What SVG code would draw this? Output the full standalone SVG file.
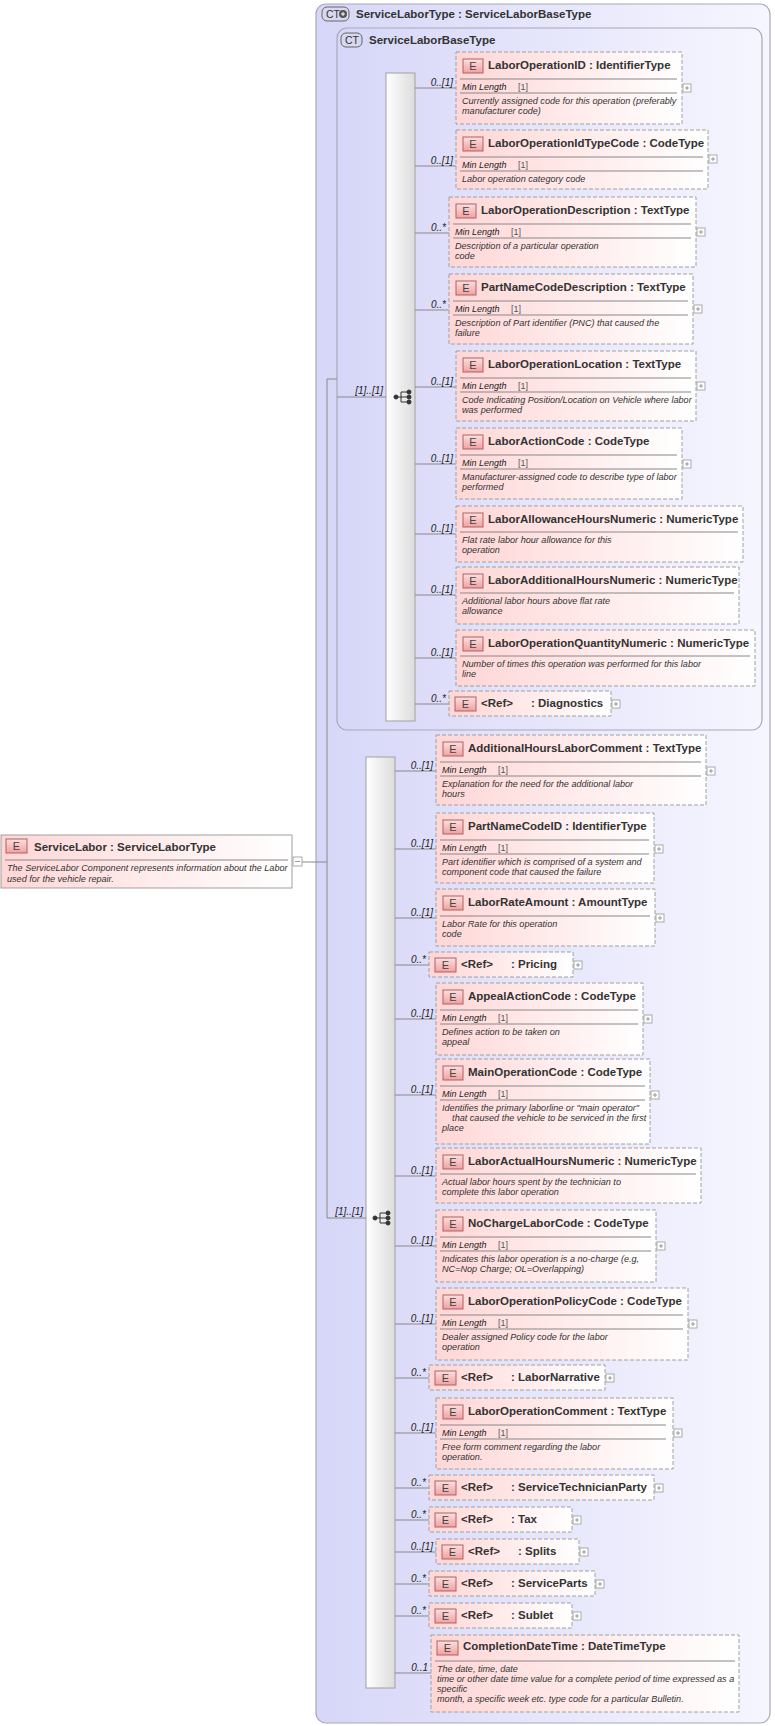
<svg xmlns="http://www.w3.org/2000/svg" width="775" height="1726" viewBox="0 0 775 1726">
<defs>
<linearGradient id="gb" x1="0" y1="0" x2="1" y2="0"><stop offset="0" stop-color="#d6d6f8"/><stop offset="1" stop-color="#f6f6ff"/></linearGradient>
<linearGradient id="ge" x1="0" y1="0" x2="1" y2="0"><stop offset="0" stop-color="#ffd6d6"/><stop offset="1" stop-color="#ffffff"/></linearGradient>
<linearGradient id="gs" x1="0" y1="0" x2="1" y2="0"><stop offset="0" stop-color="#ffffff"/><stop offset="1" stop-color="#dcdcdc"/></linearGradient>
<linearGradient id="gE" x1="0" y1="0" x2="0" y2="1"><stop offset="0" stop-color="#fbe0e0"/><stop offset="1" stop-color="#f2a0a0"/></linearGradient>
</defs>
<style>
text{font-family:"Liberation Sans",Arial,sans-serif;fill:#222}
.ct{fill:url(#gb);stroke:#a8a8b8;stroke-width:1.2}
.eb{fill:url(#ge);stroke:#a0a0a0;stroke-dasharray:4,2}
.es{fill:url(#ge);stroke:#a0a0a0}
.eg{fill:url(#gE);stroke:#b06060}
.et{font-size:11px;text-anchor:middle;fill:#444}
.tt{font-size:11.5px;font-weight:bold;fill:#333}
.sp{stroke:#888;stroke-width:1}
.ml{font-size:9px;font-style:italic}
.mv{font-size:9px;fill:#555}
.ds{font-size:9.1px;font-style:italic;fill:#333}
.lb{font-size:10px;font-style:italic;text-anchor:end}
.pl{fill:#fff;stroke:#aaa}
.pc{stroke:#999}
.cn{stroke:#888;fill:none}
.bar{fill:url(#gs);stroke:#a0a0a0}
.badge{fill:#d8d8f0;stroke:#666}
.bt{font-size:10.5px;fill:#333}
.ht{font-size:11.5px;font-weight:bold;fill:#333}
</style>

<g id="outer"><rect class="ct" x="316" y="4" width="454" height="1719" rx="10"/>
<rect class="badge" x="322" y="7" width="27" height="14" rx="5"/><text class="bt" x="326" y="18">CT</text><circle cx="343" cy="14" r="4" fill="#555"/><path d="M341 14h4M343 12v4" stroke="#fff"/>
<text class="ht" x="356" y="18">ServiceLaborType : ServiceLaborBaseType</text></g>
<g id="inner"><rect class="ct" x="337" y="28" width="425" height="702" rx="10"/>
<rect class="badge" x="341" y="33" width="21" height="14" rx="5"/><text class="bt" x="345" y="44">CT</text>
<text class="ht" x="369" y="44">ServiceLaborBaseType</text></g>

<g id="seq1"><rect class="bar" x="386" y="73" width="29" height="648"/>
<g stroke="#333" fill="#333"><path d="M396 397h5M401 392v10M401 392h8M401 397h8M401 402h8" fill="none"/><circle cx="396" cy="397" r="2"/><circle cx="409" cy="392" r="2"/><circle cx="409" cy="397" r="2"/><circle cx="409" cy="402" r="2"/></g></g>
<g id="seq2"><rect class="bar" x="366" y="757" width="29" height="931"/>
<g stroke="#333" fill="#333"><path d="M375 1218h5M380 1213v10M380 1213h8M380 1218h8M380 1223h8" fill="none"/><circle cx="375" cy="1218" r="2"/><circle cx="388" cy="1213" r="2"/><circle cx="388" cy="1218" r="2"/><circle cx="388" cy="1223" r="2"/></g></g>

<g id="ServiceLabor"><rect class="es" x="1" y="835" width="291" height="53"/>
<rect class="eg" x="6" y="839" width="21" height="14"/><text class="et" x="16.5" y="850">E</text>
<text class="ht" x="34" y="851">ServiceLabor : ServiceLaborType</text>
<line class="sp" x1="5" y1="860" x2="288" y2="860"/>
<text class="ds" x="7" y="871">The ServiceLabor Component represents information about the Labor</text>
<text class="ds" x="7" y="882">used for the vehicle repair.</text>
<rect class="pl" x="293" y="857" width="9" height="9"/><path class="pc" d="M295 861.5h5"/></g>

<g id="connectors">
<path class="cn" d="M302 862H327M327 379V1218M327 379H337M337 397H386M327 1218H366"/>
<text class="lb" x="383" y="394">[1]..[1]</text>
<text class="lb" x="363" y="1215">[1]..[1]</text>
<path class="cn" d="M415 88H456M415 166H456M415 233H449M415 310H449M415 387H456M415 464H456M415 534H456M415 595H456M415 658H456M415 704H449"/>
<text class="lb" x="453" y="86">0..[1]</text><text class="lb" x="453" y="164">0..[1]</text><text class="lb" x="446" y="231">0..*</text><text class="lb" x="446" y="308">0..*</text><text class="lb" x="453" y="385">0..[1]</text><text class="lb" x="453" y="462">0..[1]</text><text class="lb" x="453" y="532">0..[1]</text><text class="lb" x="453" y="593">0..[1]</text><text class="lb" x="453" y="656">0..[1]</text><text class="lb" x="446" y="702">0..*</text>
<path class="cn" d="M395 771H436M395 849H436M395 918H436M395 965H429M395 1019H436M395 1095H436M395 1176H436M395 1246H436M395 1324H436M395 1378H429M395 1433H436M395 1488H429M395 1520H429M395 1552H436M395 1584H429M395 1616H429M395 1673H431"/>
<text class="lb" x="433" y="769">0..[1]</text><text class="lb" x="433" y="847">0..[1]</text><text class="lb" x="433" y="916">0..[1]</text><text class="lb" x="426" y="963">0..*</text><text class="lb" x="433" y="1017">0..[1]</text><text class="lb" x="433" y="1093">0..[1]</text><text class="lb" x="433" y="1174">0..[1]</text><text class="lb" x="433" y="1244">0..[1]</text><text class="lb" x="433" y="1322">0..[1]</text><text class="lb" x="426" y="1376">0..*</text><text class="lb" x="433" y="1431">0..[1]</text><text class="lb" x="426" y="1486">0..*</text><text class="lb" x="426" y="1518">0..*</text><text class="lb" x="433" y="1550">0..[1]</text><text class="lb" x="426" y="1582">0..*</text><text class="lb" x="426" y="1614">0..*</text><text class="lb" x="428" y="1671">0..1</text>
</g>

<g id="n1"><rect class="eb" x="456" y="52" width="226" height="72"/><rect class="eg" x="463" y="59" width="20" height="14"/><text class="et" x="473" y="70">E</text><text class="tt" x="488" y="69">LaborOperationID : IdentifierType</text><line class="sp" x1="460" y1="79" x2="677" y2="79"/><text class="ml" x="462" y="90">Min Length</text><text class="mv" x="518" y="90">[1]</text><line class="sp" x1="460" y1="93" x2="677" y2="93"/><text class="ds" x="462" y="104">Currently assigned code for this operation (preferably</text><text class="ds" x="462" y="114">manufacturer code)</text><rect class="pl" x="683" y="84" width="8" height="8"/><path class="pc" d="M685 88h4M687 86v4"/></g>

<g id="n2"><rect class="eb" x="456" y="130" width="252" height="59"/><rect class="eg" x="463" y="137" width="20" height="14"/><text class="et" x="473" y="148">E</text><text class="tt" x="488" y="147">LaborOperationIdTypeCode : CodeType</text><line class="sp" x1="460" y1="157" x2="703" y2="157"/><text class="ml" x="462" y="168">Min Length</text><text class="mv" x="518" y="168">[1]</text><line class="sp" x1="460" y1="171" x2="703" y2="171"/><text class="ds" x="462" y="182">Labor operation category code</text><rect class="pl" x="709" y="155" width="8" height="8"/><path class="pc" d="M711 159h4M713 157v4"/></g>

<g id="n3"><rect class="eb" x="449" y="197" width="247" height="70"/><rect class="eg" x="456" y="204" width="20" height="14"/><text class="et" x="466" y="215">E</text><text class="tt" x="481" y="214">LaborOperationDescription : TextType</text><line class="sp" x1="453" y1="224" x2="691" y2="224"/><text class="ml" x="455" y="235">Min Length</text><text class="mv" x="511" y="235">[1]</text><line class="sp" x1="453" y1="238" x2="691" y2="238"/><text class="ds" x="455" y="249">Description of a particular operation</text><text class="ds" x="455" y="259">code</text><rect class="pl" x="697" y="228" width="8" height="8"/><path class="pc" d="M699 232h4M701 230v4"/></g>

<g id="n4"><rect class="eb" x="449" y="274" width="244" height="70"/><rect class="eg" x="456" y="281" width="20" height="14"/><text class="et" x="466" y="292">E</text><text class="tt" x="481" y="291">PartNameCodeDescription : TextType</text><line class="sp" x1="453" y1="301" x2="688" y2="301"/><text class="ml" x="455" y="312">Min Length</text><text class="mv" x="511" y="312">[1]</text><line class="sp" x1="453" y1="315" x2="688" y2="315"/><text class="ds" x="455" y="326">Description of Part identifier (PNC) that caused the</text><text class="ds" x="455" y="336">failure</text><rect class="pl" x="694" y="305" width="8" height="8"/><path class="pc" d="M696 309h4M698 307v4"/></g>

<g id="n5"><rect class="eb" x="456" y="351" width="240" height="70"/><rect class="eg" x="463" y="358" width="20" height="14"/><text class="et" x="473" y="369">E</text><text class="tt" x="488" y="368">LaborOperationLocation : TextType</text><line class="sp" x1="460" y1="378" x2="691" y2="378"/><text class="ml" x="462" y="389">Min Length</text><text class="mv" x="518" y="389">[1]</text><line class="sp" x1="460" y1="392" x2="691" y2="392"/><text class="ds" x="462" y="403">Code Indicating Position/Location on Vehicle where labor</text><text class="ds" x="462" y="413">was performed</text><rect class="pl" x="697" y="382" width="8" height="8"/><path class="pc" d="M699 386h4M701 384v4"/></g>

<g id="n6"><rect class="eb" x="456" y="428" width="226" height="71"/><rect class="eg" x="463" y="435" width="20" height="14"/><text class="et" x="473" y="446">E</text><text class="tt" x="488" y="445">LaborActionCode : CodeType</text><line class="sp" x1="460" y1="455" x2="677" y2="455"/><text class="ml" x="462" y="466">Min Length</text><text class="mv" x="518" y="466">[1]</text><line class="sp" x1="460" y1="469" x2="677" y2="469"/><text class="ds" x="462" y="480">Manufacturer-assigned code to describe type of labor</text><text class="ds" x="462" y="490">performed</text><rect class="pl" x="683" y="460" width="8" height="8"/><path class="pc" d="M685 464h4M687 462v4"/></g>

<g id="n7"><rect class="eb" x="456" y="506" width="287" height="56"/><rect class="eg" x="463" y="513" width="20" height="14"/><text class="et" x="473" y="524">E</text><text class="tt" x="488" y="523">LaborAllowanceHoursNumeric : NumericType</text><line class="sp" x1="460" y1="532" x2="738" y2="532"/><text class="ds" x="462" y="543">Flat rate labor hour allowance for this</text><text class="ds" x="462" y="553">operation</text></g>

<g id="n8"><rect class="eb" x="456" y="567" width="283" height="57"/><rect class="eg" x="463" y="574" width="20" height="14"/><text class="et" x="473" y="585">E</text><text class="tt" x="488" y="584">LaborAdditionalHoursNumeric : NumericType</text><line class="sp" x1="460" y1="593" x2="734" y2="593"/><text class="ds" x="462" y="604">Additional labor hours above flat rate</text><text class="ds" x="462" y="614">allowance</text></g>

<g id="n9"><rect class="eb" x="456" y="630" width="299" height="56"/><rect class="eg" x="463" y="637" width="20" height="14"/><text class="et" x="473" y="648">E</text><text class="tt" x="488" y="647">LaborOperationQuantityNumeric : NumericType</text><line class="sp" x1="460" y1="656" x2="750" y2="656"/><text class="ds" x="462" y="667">Number of times this operation was performed for this labor</text><text class="ds" x="462" y="677">line</text></g>

<g id="n10"><rect class="eb" x="449" y="691" width="162" height="25"/><rect class="eg" x="455" y="697" width="21" height="14"/><text class="et" x="465.5" y="708">E</text><text class="tt" x="481" y="707">&lt;Ref&gt;</text><text class="tt" x="531" y="707">: Diagnostics</text><rect class="pl" x="612" y="700" width="8" height="8"/><path class="pc" d="M614 704h4M616 702v4"/></g>

<g id="n11"><rect class="eb" x="436" y="735" width="270" height="70"/><rect class="eg" x="443" y="742" width="20" height="14"/><text class="et" x="453" y="753">E</text><text class="tt" x="468" y="752">AdditionalHoursLaborComment : TextType</text><line class="sp" x1="440" y1="762" x2="701" y2="762"/><text class="ml" x="442" y="773">Min Length</text><text class="mv" x="498" y="773">[1]</text><line class="sp" x1="440" y1="776" x2="701" y2="776"/><text class="ds" x="442" y="787">Explanation for the need for the additional labor</text><text class="ds" x="442" y="797">hours</text><rect class="pl" x="707" y="767" width="8" height="8"/><path class="pc" d="M709 771h4M711 769v4"/></g>

<g id="n12"><rect class="eb" x="436" y="813" width="218" height="70"/><rect class="eg" x="443" y="820" width="20" height="14"/><text class="et" x="453" y="831">E</text><text class="tt" x="468" y="830">PartNameCodeID : IdentifierType</text><line class="sp" x1="440" y1="840" x2="649" y2="840"/><text class="ml" x="442" y="851">Min Length</text><text class="mv" x="498" y="851">[1]</text><line class="sp" x1="440" y1="854" x2="649" y2="854"/><text class="ds" x="442" y="865">Part identifier which is comprised of a system and</text><text class="ds" x="442" y="875">component code that caused the failure</text><rect class="pl" x="655" y="845" width="8" height="8"/><path class="pc" d="M657 849h4M659 847v4"/></g>

<g id="n13"><rect class="eb" x="436" y="889" width="219" height="57"/><rect class="eg" x="443" y="896" width="20" height="14"/><text class="et" x="453" y="907">E</text><text class="tt" x="468" y="906">LaborRateAmount : AmountType</text><line class="sp" x1="440" y1="916" x2="650" y2="916"/><text class="ds" x="442" y="927">Labor Rate for this operation</text><text class="ds" x="442" y="937">code</text><rect class="pl" x="656" y="914" width="8" height="8"/><path class="pc" d="M658 918h4M660 916v4"/></g>

<g id="n14"><rect class="eb" x="429" y="952" width="144" height="25"/><rect class="eg" x="435" y="958" width="21" height="14"/><text class="et" x="445.5" y="969">E</text><text class="tt" x="461" y="968">&lt;Ref&gt;</text><text class="tt" x="511" y="968">: Pricing</text><rect class="pl" x="574" y="961" width="8" height="8"/><path class="pc" d="M576 965h4M578 963v4"/></g>

<g id="n15"><rect class="eb" x="436" y="983" width="207" height="72"/><rect class="eg" x="443" y="990" width="20" height="14"/><text class="et" x="453" y="1001">E</text><text class="tt" x="468" y="1000">AppealActionCode : CodeType</text><line class="sp" x1="440" y1="1010" x2="638" y2="1010"/><text class="ml" x="442" y="1021">Min Length</text><text class="mv" x="498" y="1021">[1]</text><line class="sp" x1="440" y1="1024" x2="638" y2="1024"/><text class="ds" x="442" y="1035">Defines action to be taken on</text><text class="ds" x="442" y="1045">appeal</text><rect class="pl" x="644" y="1015" width="8" height="8"/><path class="pc" d="M646 1019h4M648 1017v4"/></g>

<g id="n16"><rect class="eb" x="436" y="1059" width="214" height="85"/><rect class="eg" x="443" y="1066" width="20" height="14"/><text class="et" x="453" y="1077">E</text><text class="tt" x="468" y="1076">MainOperationCode : CodeType</text><line class="sp" x1="440" y1="1086" x2="645" y2="1086"/><text class="ml" x="442" y="1097">Min Length</text><text class="mv" x="498" y="1097">[1]</text><line class="sp" x1="440" y1="1100" x2="645" y2="1100"/><text class="ds" x="442" y="1111">Identifies the primary laborline or "main operator"</text><text class="ds" x="442" y="1121" xml:space="preserve">    that caused the vehicle to be serviced in the first</text><text class="ds" x="442" y="1131">place</text><rect class="pl" x="651" y="1091" width="8" height="8"/><path class="pc" d="M653 1095h4M655 1093v4"/></g>

<g id="n17"><rect class="eb" x="436" y="1148" width="265" height="55"/><rect class="eg" x="443" y="1155" width="20" height="14"/><text class="et" x="453" y="1166">E</text><text class="tt" x="468" y="1165">LaborActualHoursNumeric : NumericType</text><line class="sp" x1="440" y1="1174" x2="696" y2="1174"/><text class="ds" x="442" y="1185">Actual labor hours spent by the technician to</text><text class="ds" x="442" y="1195">complete this labor operation</text></g>

<g id="n18"><rect class="eb" x="436" y="1210" width="220" height="72"/><rect class="eg" x="443" y="1217" width="20" height="14"/><text class="et" x="453" y="1228">E</text><text class="tt" x="468" y="1227">NoChargeLaborCode : CodeType</text><line class="sp" x1="440" y1="1237" x2="651" y2="1237"/><text class="ml" x="442" y="1248">Min Length</text><text class="mv" x="498" y="1248">[1]</text><line class="sp" x1="440" y1="1251" x2="651" y2="1251"/><text class="ds" x="442" y="1262">Indicates this labor operation is a no-charge (e.g,</text><text class="ds" x="442" y="1272">NC=Nop Charge; OL=Overlapping)</text><rect class="pl" x="657" y="1242" width="8" height="8"/><path class="pc" d="M659 1246h4M661 1244v4"/></g>

<g id="n19"><rect class="eb" x="436" y="1288" width="252" height="72"/><rect class="eg" x="443" y="1295" width="20" height="14"/><text class="et" x="453" y="1306">E</text><text class="tt" x="468" y="1305">LaborOperationPolicyCode : CodeType</text><line class="sp" x1="440" y1="1315" x2="683" y2="1315"/><text class="ml" x="442" y="1326">Min Length</text><text class="mv" x="498" y="1326">[1]</text><line class="sp" x1="440" y1="1329" x2="683" y2="1329"/><text class="ds" x="442" y="1340">Dealer assigned Policy code for the labor</text><text class="ds" x="442" y="1350">operation</text><rect class="pl" x="689" y="1320" width="8" height="8"/><path class="pc" d="M691 1324h4M693 1322v4"/></g>

<g id="n20"><rect class="eb" x="429" y="1365" width="176" height="25"/><rect class="eg" x="435" y="1371" width="21" height="14"/><text class="et" x="445.5" y="1382">E</text><text class="tt" x="461" y="1381">&lt;Ref&gt;</text><text class="tt" x="511" y="1381">: LaborNarrative</text><rect class="pl" x="606" y="1374" width="8" height="8"/><path class="pc" d="M608 1378h4M610 1376v4"/></g>

<g id="n21"><rect class="eb" x="436" y="1398" width="237" height="71"/><rect class="eg" x="443" y="1405" width="20" height="14"/><text class="et" x="453" y="1416">E</text><text class="tt" x="468" y="1415">LaborOperationComment : TextType</text><line class="sp" x1="440" y1="1425" x2="666" y2="1425"/><text class="ml" x="442" y="1436">Min Length</text><text class="mv" x="498" y="1436">[1]</text><line class="sp" x1="440" y1="1439" x2="666" y2="1439"/><text class="ds" x="442" y="1450">Free form comment regarding the labor</text><text class="ds" x="442" y="1460">operation.</text><rect class="pl" x="674" y="1429" width="8" height="8"/><path class="pc" d="M676 1433h4M678 1431v4"/></g>

<g id="n22"><rect class="eb" x="429" y="1475" width="225" height="25"/><rect class="eg" x="435" y="1481" width="21" height="14"/><text class="et" x="445.5" y="1492">E</text><text class="tt" x="461" y="1491">&lt;Ref&gt;</text><text class="tt" x="511" y="1491">: ServiceTechnicianParty</text><rect class="pl" x="655" y="1484" width="8" height="8"/><path class="pc" d="M657 1488h4M659 1486v4"/></g>

<g id="n23"><rect class="eb" x="429" y="1507" width="143" height="25"/><rect class="eg" x="435" y="1513" width="21" height="14"/><text class="et" x="445.5" y="1524">E</text><text class="tt" x="461" y="1523">&lt;Ref&gt;</text><text class="tt" x="511" y="1523">: Tax</text><rect class="pl" x="573" y="1516" width="8" height="8"/><path class="pc" d="M575 1520h4M577 1518v4"/></g>

<g id="n24"><rect class="eb" x="436" y="1539" width="143" height="25"/><rect class="eg" x="442" y="1545" width="21" height="14"/><text class="et" x="452.5" y="1556">E</text><text class="tt" x="468" y="1555">&lt;Ref&gt;</text><text class="tt" x="518" y="1555">: Splits</text><rect class="pl" x="580" y="1548" width="8" height="8"/><path class="pc" d="M582 1552h4M584 1550v4"/></g>

<g id="n25"><rect class="eb" x="429" y="1571" width="166" height="25"/><rect class="eg" x="435" y="1577" width="21" height="14"/><text class="et" x="445.5" y="1588">E</text><text class="tt" x="461" y="1587">&lt;Ref&gt;</text><text class="tt" x="511" y="1587">: ServiceParts</text><rect class="pl" x="596" y="1580" width="8" height="8"/><path class="pc" d="M598 1584h4M600 1582v4"/></g>

<g id="n26"><rect class="eb" x="429" y="1603" width="143" height="25"/><rect class="eg" x="435" y="1609" width="21" height="14"/><text class="et" x="445.5" y="1620">E</text><text class="tt" x="461" y="1619">&lt;Ref&gt;</text><text class="tt" x="511" y="1619">: Sublet</text><rect class="pl" x="573" y="1612" width="8" height="8"/><path class="pc" d="M575 1616h4M577 1614v4"/></g>

<g id="n27"><rect class="eb" x="431" y="1635" width="308" height="77"/><rect class="eg" x="437" y="1641" width="21" height="14"/><text class="et" x="447.5" y="1652">E</text><text class="tt" x="463" y="1650">CompletionDateTime : DateTimeType</text><line class="sp" x1="435" y1="1661" x2="735" y2="1661"/><text class="ds" x="437" y="1672">The date, time, date</text><text class="ds" x="437" y="1682">time or other date time value for a complete period of time expressed as a</text><text class="ds" x="437" y="1692">specific</text><text class="ds" x="437" y="1702">month, a specific week etc. type code for a particular Bulletin.</text></g>
</svg>
